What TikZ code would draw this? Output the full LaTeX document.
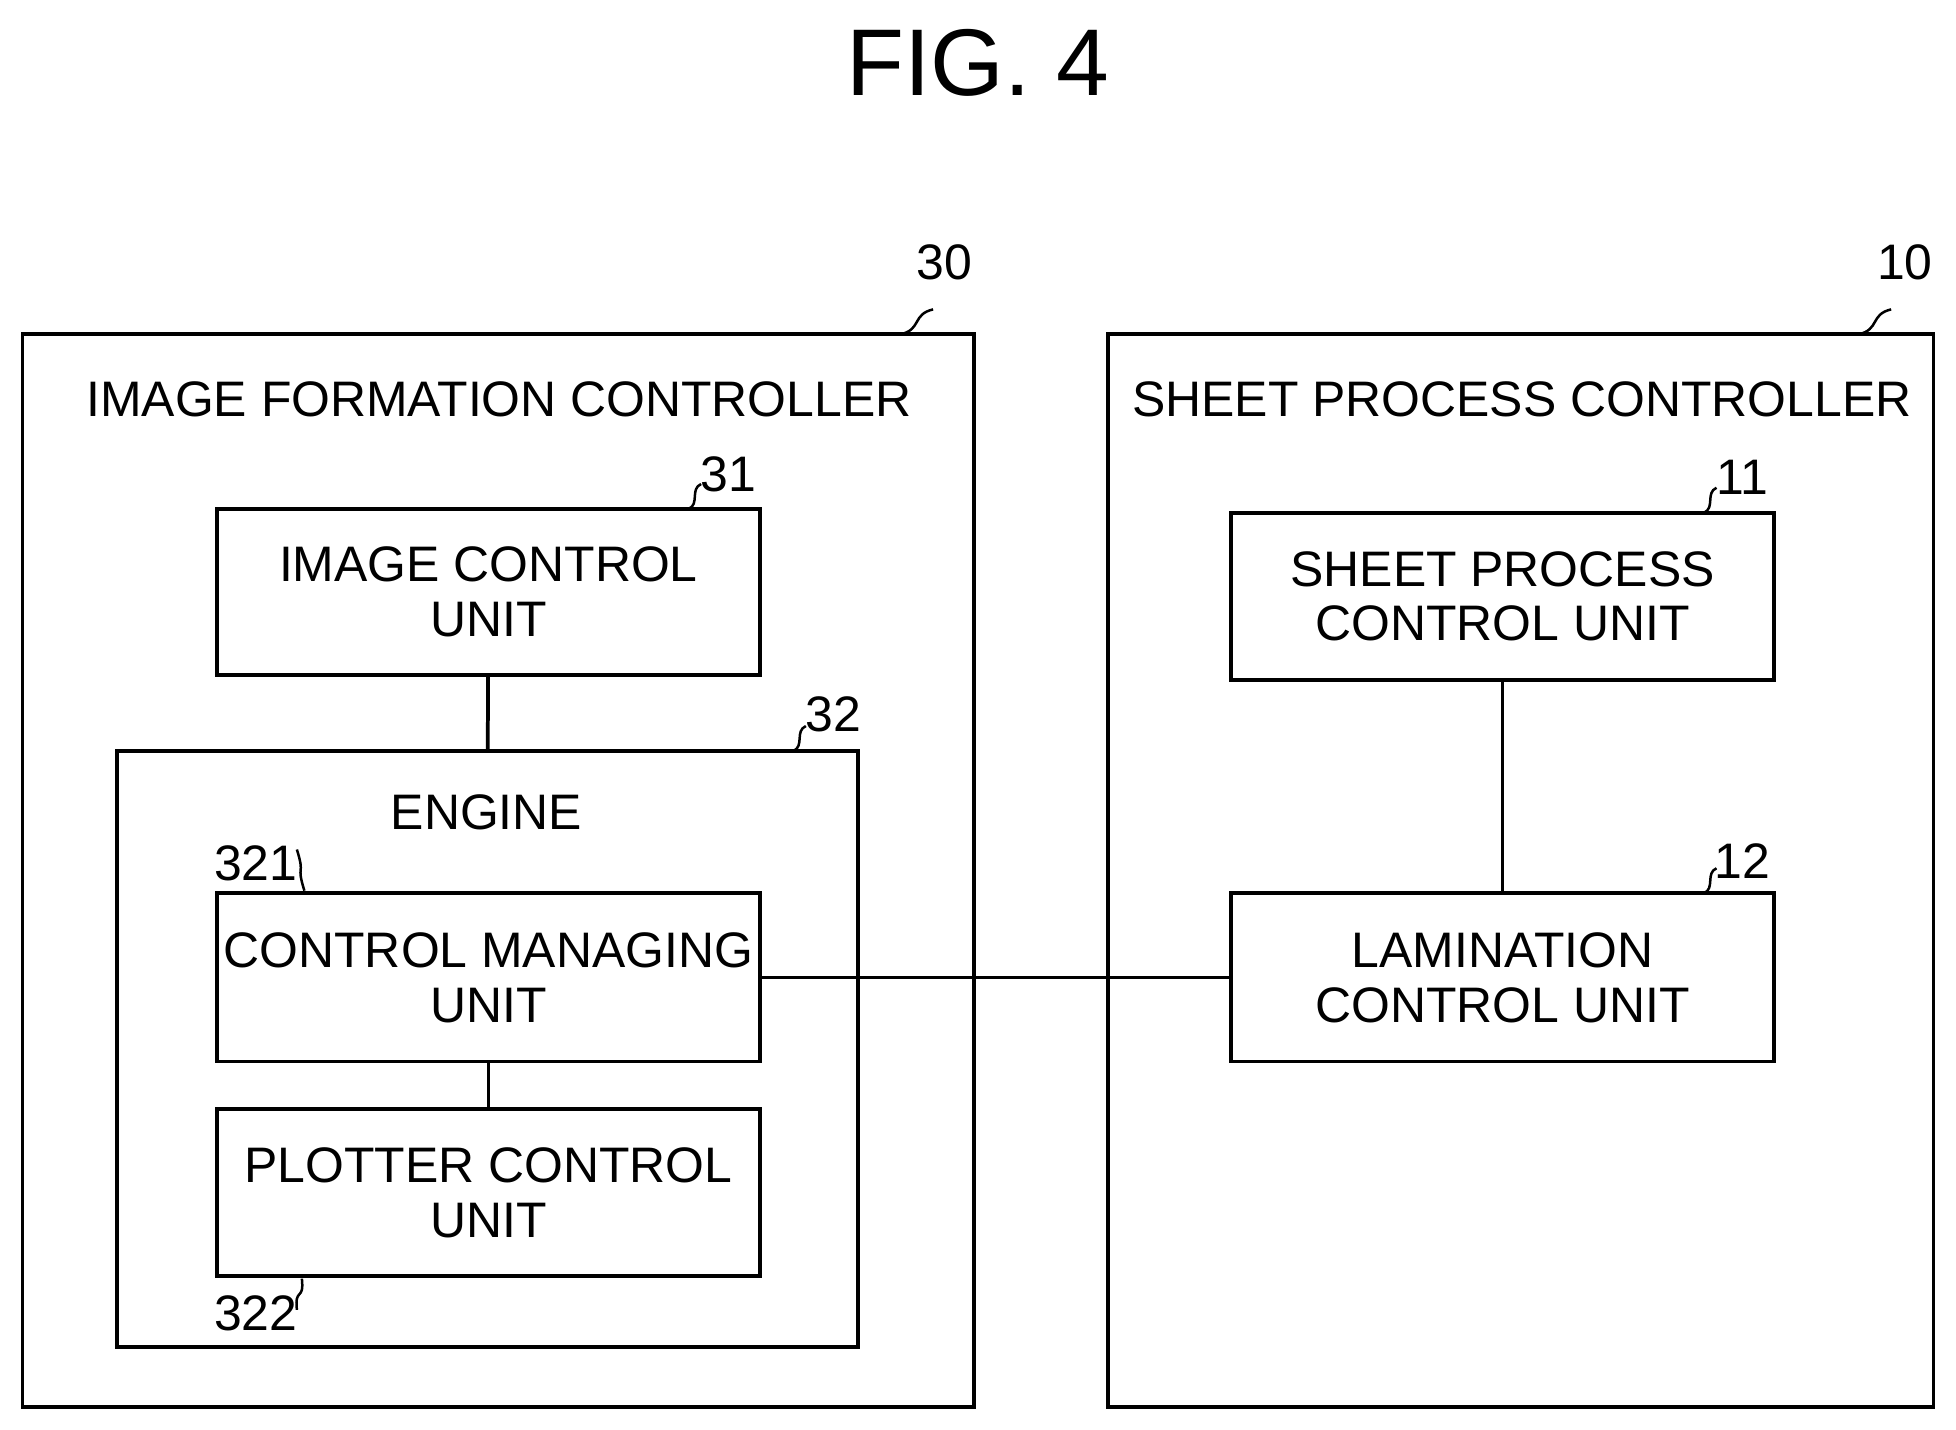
\documentclass[tikz,border=0pt]{standalone}
\usepackage{fontspec}
\setmainfont{Liberation Sans}
\usetikzlibrary{positioning}
\tikzset{
  blk/.style={draw, line width=1.5pt, inner sep=0pt, align=center, font=\fontsize{20}{22}\selectfont},
  lbl/.style={font=\fontsize{20}{22}\selectfont, inner sep=1pt},
  squig/.style={line width=1pt},
}
\newcommand{\lead}[2]{% squiggle from #1 to #2
  \draw[squig] (#1) .. controls ($(#1)!0.5!(#2)+(4,6)$) and ($(#1)!0.5!(#2)+(-4,-6)$) .. (#2);}
\usetikzlibrary{calc}
\begin{document}
\begin{tikzpicture}[x=0.5pt, y=-0.5pt, line width=1.5pt]
  \useasboundingbox (0,0) rectangle (1568,1146);
  \node[font=\fontsize{38}{40}\selectfont] (fig) at (784,50) {FIG. 4};

  % image formation controller
  \draw (18,268) rectangle (781,1128);
  \node[lbl] (t30) at (400,320) {IMAGE FORMATION CONTROLLER};
  \node[lbl] (n30) at (757,210) {30};
  \lead{722,268}{748,248}

  \node[blk, minimum width=435*0.5pt, minimum height=133*0.5pt] (icu) at (391.5,474.5) {IMAGE CONTROL\\UNIT};
  \node[lbl] (n31) at (584,380) {31};
  \lead{552,408}{562,388}

  \draw (94,602) rectangle (688,1080);
  \coordinate (eng) at (391,602);
  \node[lbl] (t32) at (390,651) {ENGINE};
  \node[lbl] (n32) at (668,573) {32};
  \lead{636,602}{646,582}

  \node[blk, minimum width=435*0.5pt, minimum height=135*0.5pt] (cmu) at (391.5,783.5) {CONTROL MANAGING\\UNIT};
  \node[lbl] (n321) at (205,692) {321};
  \lead{238,681}{244,714}

  \node[blk, minimum width=435*0.5pt, minimum height=134*0.5pt] (pcu) at (391.5,956) {PLOTTER CONTROL\\UNIT};
  \node[lbl] (n322) at (205,1053) {322};
  \lead{242,1025}{238,1050}

  % sheet process controller
  \draw (888,268) rectangle (1550,1128);
  \node[lbl] (t10) at (1220,320) {SHEET PROCESS CONTROLLER};
  \node[lbl] (n10) at (1527,210) {10};
  \lead{1490,268}{1516,248}

  \node[blk, minimum width=435*0.5pt, minimum height=134*0.5pt] (spu) at (1204.5,478) {SHEET PROCESS\\CONTROL UNIT};
  \node[lbl] (n11) at (1397,383) {11};
  \lead{1366,411}{1376,391}

  \node[blk, minimum width=435*0.5pt, minimum height=135*0.5pt] (lcu) at (1204.5,783.5) {LAMINATION\\CONTROL UNIT};
  \node[lbl] (n12) at (1397,690) {12};
  \lead{1366,716}{1376,696}

  % connections
  \draw (icu) -- (eng);
  \draw (cmu) -- (pcu);
  \draw (spu) -- (lcu);
  \draw (cmu.east) -- (lcu.west);
\end{tikzpicture}
\end{document}
